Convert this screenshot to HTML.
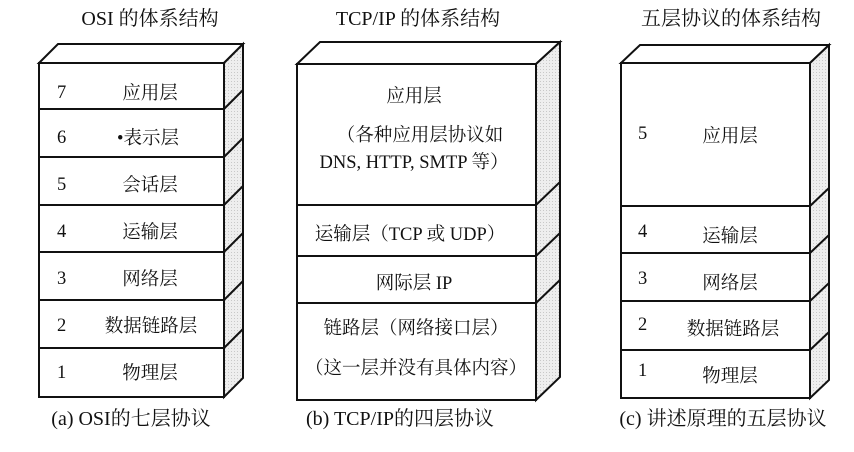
<!DOCTYPE html>
<html><head><meta charset="utf-8"><style>
html,body{margin:0;padding:0;background:#fff;}
svg text{font-family:"Liberation Serif","Noto Serif CJK SC",serif;fill:#111;}
</style></head><body>
<svg width="854" height="447" viewBox="0 0 854 447" xmlns="http://www.w3.org/2000/svg">
<defs><pattern id="dots" width="3" height="3" patternUnits="userSpaceOnUse"><rect width="3" height="3" fill="#eee"/><rect width="1" height="1" fill="#c8c8c8"/></pattern></defs>
<g stroke="#111" stroke-width="2" fill="none">
<polygon points="39,63 58,44 243,44 224,63" fill="#fff"/>
<polygon points="224,63 243,44 243,378 224,397" fill="url(#dots)"/>
<rect x="39" y="63" width="185" height="334" fill="#fff"/>
<path d="M39,109H224M39,157H224M39,205H224M39,252H224M39,300H224M39,348H224"/>
<path d="M224,109L243,90M224,157L243,138M224,205L243,186M224,252L243,233M224,300L243,281M224,348L243,329"/>
<polygon points="297,64 320,42 560,42 536,64" fill="#fff"/>
<polygon points="536,64 560,42 560,377 536,400" fill="url(#dots)"/>
<rect x="297" y="64" width="239" height="336" fill="#fff"/>
<path d="M297,205H536M297,256H536M297,303H536"/>
<path d="M536,205L560,182M536,256L560,233M536,303L560,280"/>
<polygon points="621,63 640,45 829,45 810,63" fill="#fff"/>
<polygon points="810,63 829,45 829,380 810,398" fill="url(#dots)"/>
<rect x="621" y="63" width="189" height="335" fill="#fff"/>
<path d="M621,206H810M621,253H810M621,301H810M621,350H810"/>
<path d="M810,206L829,188M810,253L829,235M810,301L829,283M810,350L829,332"/>
</g>
<g font-size="20" text-anchor="middle">
<text x="150" y="25">OSI 的体系结构</text>
<text x="418" y="25">TCP/IP 的体系结构</text>
<text x="731" y="25">五层协议的体系结构</text>
<text x="131" y="425">(a) OSI的七层协议</text>
<text x="400" y="425">(b) TCP/IP的四层协议</text>
<text x="723" y="425">(c) 讲述原理的五层协议</text>
</g>
<g font-size="18.5">
<text x="57" y="98">7</text><text x="57" y="143">6</text><text x="57" y="190">5</text>
<text x="57" y="237">4</text><text x="57" y="284">3</text><text x="57" y="331">2</text><text x="57" y="378">1</text>
<g text-anchor="middle">
<text x="150" y="99">应用层</text><text x="148" y="144">•表示层</text><text x="150" y="191">会话层</text>
<text x="150" y="238">运输层</text><text x="150" y="285">网络层</text><text x="151" y="332">数据链路层</text><text x="150" y="379">物理层</text>
<text x="414" y="102">应用层</text>
<text x="420" y="141">（各种应用层协议如</text>
<text x="414" y="168">DNS, HTTP, SMTP 等）</text>
<text x="410" y="240">运输层（TCP 或 UDP）</text>
<text x="414" y="289">网际层 IP</text>
<text x="416" y="334">链路层（网络接口层）</text>
<text x="416" y="374">（这一层并没有具体内容）</text>
<text x="730" y="142">应用层</text><text x="730" y="242">运输层</text><text x="730" y="289">网络层</text>
<text x="733" y="335">数据链路层</text><text x="730" y="382">物理层</text>
</g>
<text x="638" y="139">5</text><text x="638" y="237">4</text><text x="638" y="284">3</text><text x="638" y="330">2</text><text x="638" y="376">1</text>
</g>
</svg>
</body></html>
